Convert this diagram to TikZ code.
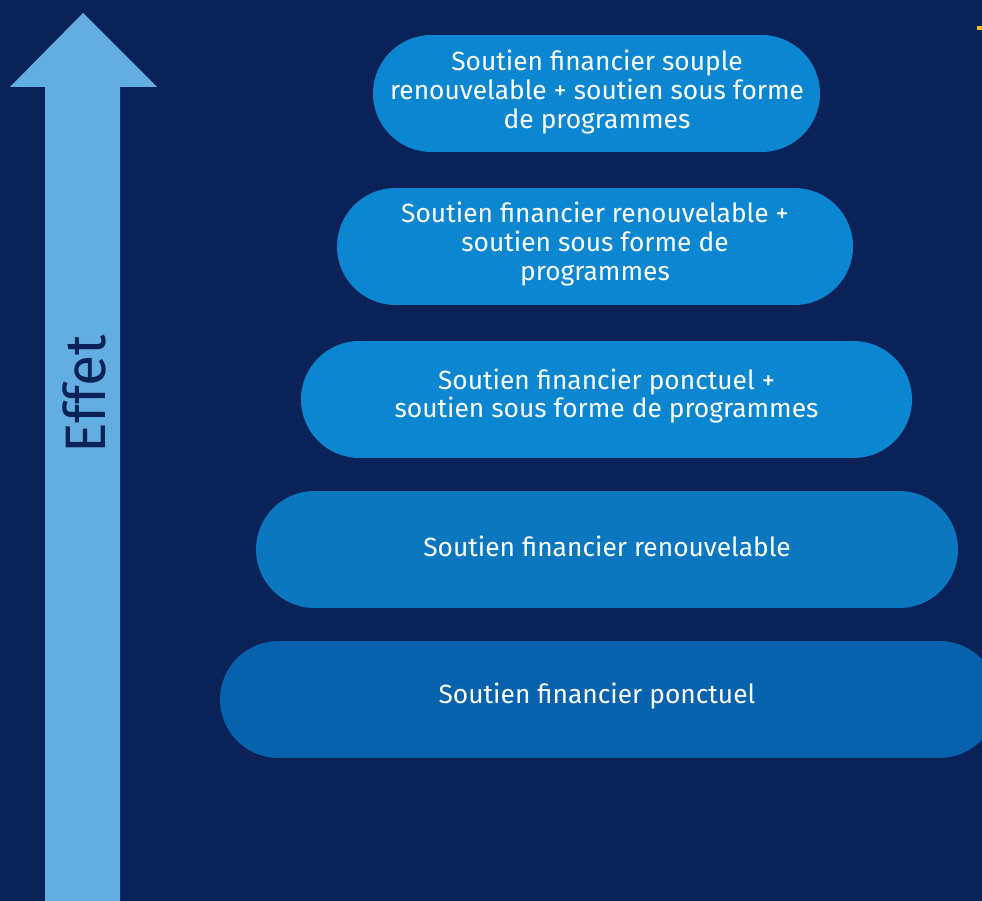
\documentclass[tikz,border=0pt]{standalone}
\usepackage{fontspec}
\setmainfont{Fira Sans}
\definecolor{navy}{HTML}{0B2259}
\definecolor{arrowblue}{HTML}{63AEE0}
\definecolor{pillA}{HTML}{0B87D1}
\definecolor{pillB}{HTML}{0A77BF}
\definecolor{pillC}{HTML}{0662AC}
\definecolor{gold}{HTML}{FDB913}
\tikzset{
  pill/.style={rectangle, rounded corners=1.17cm, minimum height=2.34cm, inner sep=0pt},
  pilltext/.style={text=white, align=center, font=\fontsize{15}{16.4}\selectfont}
}
\begin{document}
\begin{tikzpicture}[x=0.02cm, y=-0.02cm]
    \useasboundingbox (0,0) rectangle (982,901);
    \fill [navy] (0,0) rectangle (982,901);
    \clip (0,0) rectangle (982,901);
    % arrow
    \fill [arrowblue] (45,901) -- (45,87) -- (10,87) -- (83,13) -- (157,87) -- (120,87) -- (120,901) -- cycle;
    \node [rotate=90, text=navy, font=\fontsize{32.5}{34}\selectfont] (effet) at (84,394) {Effet};
    % levels
    \foreach \n/\x/\y/\w/\tx/\ty/\col/\txt in {
      1/596.5/93.5/447/597/92/pillA/{Soutien financier souple\\renouvelable + soutien sous forme\\de programmes},
      2/595/246.5/516/595/244/pillA/{Soutien financier renouvelable +\\soutien sous forme de\\programmes},
      3/606.5/399.5/611/606.5/396/pillA/{Soutien financier ponctuel +\\soutien sous forme de programmes},
      4/607/549.5/702/607/546.5/pillB/{Soutien financier renouvelable},
      5/609/699.5/778/597/696.5/pillC/{Soutien financier ponctuel}}
    {
      \node [pill, fill=\col, minimum width=\w*0.02cm] (level\n) at (\x,\y) {};
      \node [pilltext] (label\n) at (\tx,\ty) {\txt};
    }
    \fill [gold] (977,26) rectangle (982,30);
\end{tikzpicture}
\end{document}
